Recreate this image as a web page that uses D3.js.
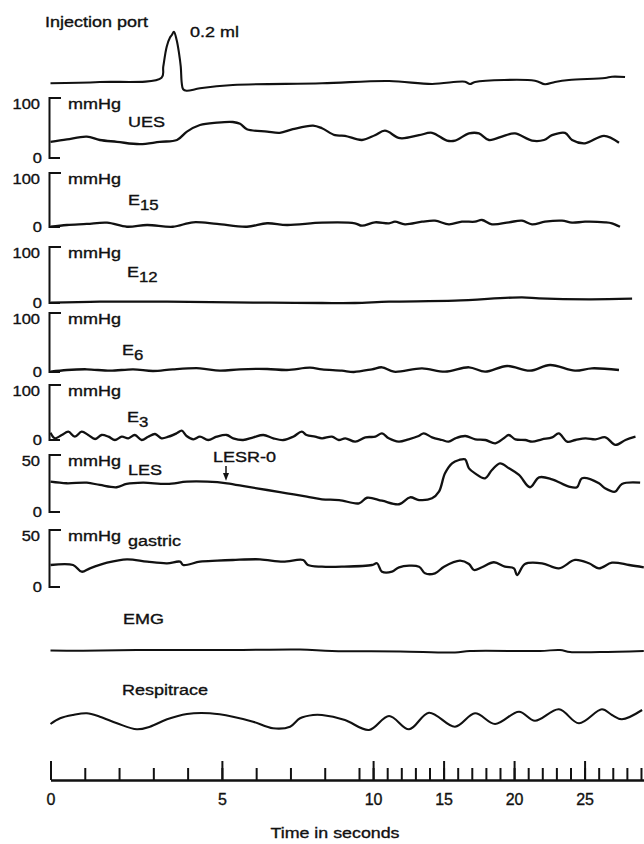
<!DOCTYPE html>
<html>
<head>
<meta charset="utf-8">
<title>Pressure traces</title>
<script src="https://cdn.jsdelivr.net/npm/d3@7"></script>
<style>
  body { margin: 0; background: #fff; }
  text { font-family: "Liberation Sans", Arial, Helvetica, sans-serif; fill: #111; stroke: #111; stroke-width: 0.35px; }
</style>
</head>
<body>
<svg width="644" height="844"></svg>
<script>
// ---- data: [time in s, value] ----
var injectionData = [[0,0.7],[1.44,2],[3.24,6.3],[3.29,17.3],[3.39,37.3],[3.49,46.7],[3.54,49],[3.60,52.3],
  [3.68,44],[3.75,30.7],[3.80,17.3],[3.83,0.7],[3.87,-5.3],[3.97,-6.7],[4.36,-4.3],[5.32,-1],[7.92,0.7],
  [11.13,3],[14.18,0],[16.52,2.3],[16.87,0],[17.23,2],[21.48,3.3],[22.19,-0.3],[22.90,2],[23.89,4],
  [26.45,6],[26.94,7.3],[27.87,7]];

var uesData = [[0,26.7],[0.48,31],[1.06,35.5],[1.44,30],[1.94,27],[2.61,23],[3.19,27],[3.69,30],[3.98,44],
  [4.36,55],[4.86,59],[5.32,60],[5.53,57],[5.73,48],[6.32,44],[6.69,42],[7.07,48],[7.66,54],[7.92,49.5],
  [8.30,38],[8.59,37],[9.21,30],[10.13,38],[10.84,45.5],[11.91,33],[13.26,38],[14.18,42],[15.24,29],
  [15.81,29],[16.80,41],[17.51,41],[18.22,30],[19.28,37],[20.06,41],[21.27,29],[22.12,30],[22.69,38],
  [23.61,42],[24.11,30],[25.03,24.5],[26.38,37],[27.44,25.5]];

var e15Data = [[0,0.5],[0.48,3.7],[1.06,5.6],[1.65,8],[2.23,0.5],[2.82,3.7],[3.57,0.5],[4.16,8.7],[4.86,5.6],
  [5.73,0.5],[6.32,6.9],[6.90,3.7],[7.92,8],[8.88,6.9],[9.21,2.4],[10.13,8.7],[11.13,6.9],[11.55,9.8],
  [12.26,5],[13.47,9.8],[14.39,11.7],[15.38,5],[16.30,9.8],[17.23,9.8],[17.72,13],[18.43,5],[19.64,8.7],
  [20.56,11.7],[21.27,5],[22.19,9.8],[23.40,11.7],[24.11,8],[25.03,9.8],[26.45,8.7],[26.94,6.9],[27.51,0.5]];

var e12Data = [[0,0.5],[1.44,2.3],[3.40,2.3],[5.32,1.2],[6.40,0.5],[7.92,0],[8.88,0],[11.13,2.3],[15.81,4.1],
  [20.56,10.2],[21.77,8.4],[25.31,6.6],[28.37,7.7]];

var e6Data = [[0,0.5],[0.48,3.4],[1.06,4.6],[1.74,2.2],[2.41,4.6],[2.99,1.7],[3.57,4.6],[4.36,6.3],[4.94,2.2],
  [5.53,4.6],[6.32,5.1],[6.90,3.4],[7.57,7.3],[7.92,4.6],[8.50,2.2],[8.85,0],[9.92,4.6],[10.63,8],[11.48,0.5],
  [13.47,6.3],[15.10,0.5],[16.80,8],[17.94,0.5],[19.50,10.2],[21.13,2.2],[22.55,11.9],[24.32,2.2],
  [25.52,6.3],[27.44,3.4]];

var e3Data = [[0,13.3],[0.13,3.1],[0.33,9.1],[0.52,15.1],[0.71,6],[0.91,15.1],[1.10,9.1],[1.30,1.8],[1.49,9.1],
  [1.69,6],[1.88,0],[2.08,6],[2.27,3.1],[2.46,9.1],[2.66,0],[2.85,6],[3.05,10.9],[3.24,3.1],[3.44,6],
  [3.68,12.2],[3.83,16.9],[3.97,7.3],[4.17,1.3],[4.36,6],[4.60,0],[4.85,6],[5.14,9.1],[5.33,3.1],[5.62,0],
  [5.92,4.9],[6.21,9.1],[6.50,3.1],[6.79,0],[7.08,6],[7.33,15.1],[7.47,9.1],[7.72,6],[7.92,3.1],[8.21,6],
  [8.41,0],[8.60,3.1],[8.89,-3],[9.45,4.9],[10.16,6],[10.63,12.1],[11.11,3.1],[11.82,-3],[12.52,1.3],
  [13.23,7.3],[13.59,12.1],[14.18,4.9],[14.89,0],[15.36,-3],[15.83,3.1],[16.54,7.3],[17.25,1.3],[17.96,0],
  [18.67,-6],[19.27,3.1],[19.62,9.1],[20.09,1.3],[20.80,0],[21.28,-3],[21.98,1.3],[22.70,4.9],[23.17,12.1],
  [23.76,-3],[24.35,0],[25.06,3.1],[25.77,1.3],[26.48,4.9],[27.19,-9],[27.90,0],[28.61,6]];

var lesData = [[0,26.6],[0.47,25.2],[1.06,25.7],[1.44,23.7],[1.93,21.7],[2.22,24.6],[2.70,25.7],[3.40,24.6],
  [3.98,26.6],[4.57,26.6],[5.15,25.2],[5.73,22.2],[6.32,19.3],[6.90,16.4],[7.48,13.4],[7.92,11.1],[8.42,10.5],
  [9.0,7.6],[9.57,12.5],[10.63,9.9],[11.84,6.8],[12.62,12.9],[13.26,10.5],[14.18,12],[14.67,17.8],[15.10,33.9],
  [15.60,42.7],[16.09,45.6],[16.52,46.2],[16.80,38.3],[17.23,33.9],[17.94,29.6],[18.43,36.8],[19.0,42.7],
  [19.64,38.3],[20.35,32.5],[21.13,21.7],[21.77,30.4],[22.69,28.7],[23.89,22.2],[24.46,21.7],[24.82,29.6],
  [26.02,25.2],[26.45,20.8],[27.16,17.8],[27.65,24.6],[28.94,25.7]];

var gastricData = [[0,19.3],[0.66,19.3],[0.91,13.4],[1.15,16.4],[1.65,21.3],[2.23,24.3],[2.82,22.2],[3.40,20.8],
  [3.78,22.2],[3.87,19.3],[4.36,22.2],[4.86,23.1],[5.32,23.7],[6.11,24.3],[6.78,22.2],[7.37,23.7],[7.51,19.3],
  [7.92,17.8],[8.50,17.8],[9.92,19.3],[10.28,20.8],[10.63,13.4],[11.34,13.4],[11.84,17.3],[13.26,17.8],
  [13.68,12],[14.39,12],[15.03,17.8],[16.16,23.1],[16.80,20.2],[17.16,14.9],[17.72,17.3],[18.57,21.7],
  [19.35,17.8],[19.99,16.4],[20.21,10.5],[20.77,20.2],[21.98,20.8],[23.18,16.4],[24.32,23.7],[25.31,20.8],
  [26.02,16.4],[26.94,21.3],[28.16,19.3],[29.2,17.3]];

var emgData = [[0,1.5],[0.95,1.3],[2.90,2],[5.32,2],[7.28,2.5],[8.21,1],[11.91,0.5],[15.81,-0.5],[16.87,1],
  [21.84,1],[23.26,2],[23.97,0],[26.09,0],[29.2,1]];

var respData = [[0,6],[0.28,11.7],[0.66,15],[1.06,16.7],[1.44,13.3],[1.94,6.7],[2.52,0.7],[2.90,3.3],[3.40,10.7],
  [3.98,16],[4.65,16.7],[5.32,13.3],[5.91,8.3],[6.49,1.7],[6.99,3.3],[7.28,11.7],[7.66,15],[7.92,15],
  [8.59,10],[9.71,0],[11.13,14],[12.55,0.7],[13.96,17.3],[15.81,3.3],[17.23,16.7],[18.65,6],[20.35,18.3],
  [21.48,9.3],[23.18,20.7],[24.60,6.7],[26.23,20.7],[26.94,15],[27.65,10.7],[29.08,20]];

var minorTicks = d3.range(0, 30);
var majorTicks = [0, 5, 10, 15, 20, 25];
var lesrTime = 5.12;

// ---- scales ----
var svg = d3.select("svg");
// paper speed changes after 9 s
var x = d3.scaleLinear().domain([0, 9, 29.2]).range([50.5, 359, 643.8]);

function traceLine(yScale) {
  return d3.line()
    .curve(d3.curveCatmullRom.alpha(0.5))
    .x(function(d) { return x(d[0]); })
    .y(function(d) { return yScale(d[1]); });
}

function drawTrace(data, yScale, width) {
  svg.append("path")
    .datum(data)
    .attr("fill", "none")
    .attr("stroke", "#111")
    .attr("stroke-width", width || 2.3)
    .attr("stroke-linejoin", "round")
    .attr("d", traceLine(yScale));
}

// text stretched a bit wider, like the printed figure
function label(txt, px, py, size, sx, anchor) {
  return svg.append("text")
    .attr("transform", "translate(" + px + "," + py + ") scale(" + sx + ",1)")
    .attr("font-size", size + "px")
    .attr("text-anchor", anchor || "start")
    .text(txt);
}

// injection port
var yInj = d3.scaleLinear().domain([0, 50]).range([84, 34]);
label("Injection port", 45, 27, 15, 1.2);
label("0.2 ml", 190, 37, 15, 1.2);
drawTrace(injectionData, yInj, 2.1);

// pressure channels
var channels = [
  {name: "UES", data: uesData, max: 100, top: 98, bottom: 158, lx: 128, ly: 127},
  {name: "E", sub: "15", data: e15Data, max: 100, top: 173, bottom: 227, lx: 128, ly: 205},
  {name: "E", sub: "12", data: e12Data, max: 100, top: 247, bottom: 303, lx: 127, ly: 277},
  {name: "E", sub: "6", data: e6Data, max: 100, top: 313, bottom: 372, lx: 122, ly: 355},
  {name: "E", sub: "3", data: e3Data, max: 100, top: 385, bottom: 440, lx: 127, ly: 422},
  {name: "LES", data: lesData, max: 50, top: 455, bottom: 512, lx: 128, ly: 475},
  {name: "gastric", data: gastricData, max: 50, top: 530, bottom: 587, lx: 128, ly: 546}
];

channels.forEach(function(c) {
  var y = d3.scaleLinear().domain([0, c.max]).range([c.bottom, c.top]);
  c.y = y;
  svg.append("path")
    .attr("fill", "none")
    .attr("stroke", "#111")
    .attr("stroke-width", 2)
    .attr("d", "M61," + y(c.max) + "H49.5V" + y(0) + "H60");
  label(String(c.max), 40, y(c.max) + 11, 15, 1.1, "end");
  label("0", 42, y(0) + 5, 15, 1.1, "end");
  label("mmHg", 68, y(c.max) + 10.5, 15, 1.2);
  var t = label(c.name, c.lx, c.ly, 15, 1.2);
  if (c.sub) {
    t.append("tspan").attr("dy", 5).attr("font-size", "14px").text(c.sub);
  }
  drawTrace(c.data, y, 2.3);
});

// LESR-0 marker
var les = channels[5];
var ax = x(lesrTime);
label("LESR-0", ax - 13, 462, 15, 1.2);
svg.append("line")
  .attr("x1", ax).attr("x2", ax)
  .attr("y1", 466).attr("y2", 476)
  .attr("stroke", "#111").attr("stroke-width", 1.5);
svg.append("path")
  .attr("d", "M" + (ax - 3) + ",473L" + ax + "," + (les.y(25.6) - 2) + "L" + (ax + 3) + ",473Z")
  .attr("fill", "#111");

// EMG
var yEmg = d3.scaleLinear().domain([0, 10]).range([652, 642]);
label("EMG", 123, 624, 15, 1.2);
drawTrace(emgData, yEmg, 2);

// Respitrace
var yResp = d3.scaleLinear().domain([0, 20]).range([730, 710]);
label("Respitrace", 122, 695, 15, 1.2);
drawTrace(respData, yResp, 2.1);

// time axis
var minorAxis = d3.axisBottom(x)
  .tickValues(minorTicks)
  .tickSizeInner(-12)
  .tickSizeOuter(0)
  .tickFormat("");
var majorAxis = d3.axisBottom(x)
  .tickValues(majorTicks)
  .tickSizeInner(-19)
  .tickSizeOuter(0)
  .tickPadding(14)
  .tickFormat(d3.format("d"));

var gMinor = svg.append("g").attr("transform", "translate(0,780)").call(minorAxis);
var gMajor = svg.append("g").attr("transform", "translate(0,780)").call(majorAxis);
[gMinor, gMajor].forEach(function(g) {
  g.selectAll("path, line").attr("stroke", "#111").attr("stroke-width", 2);
});
gMajor.selectAll("text")
  .attr("font-size", "16px")
  .attr("font-family", "'Liberation Sans', Arial, sans-serif")
  .attr("fill", "#111")
  .attr("stroke", "#111")
  .attr("stroke-width", 0.35);

label("Time in seconds", 335, 838, 15.5, 1.15, "middle");
</script>
</body>
</html>
